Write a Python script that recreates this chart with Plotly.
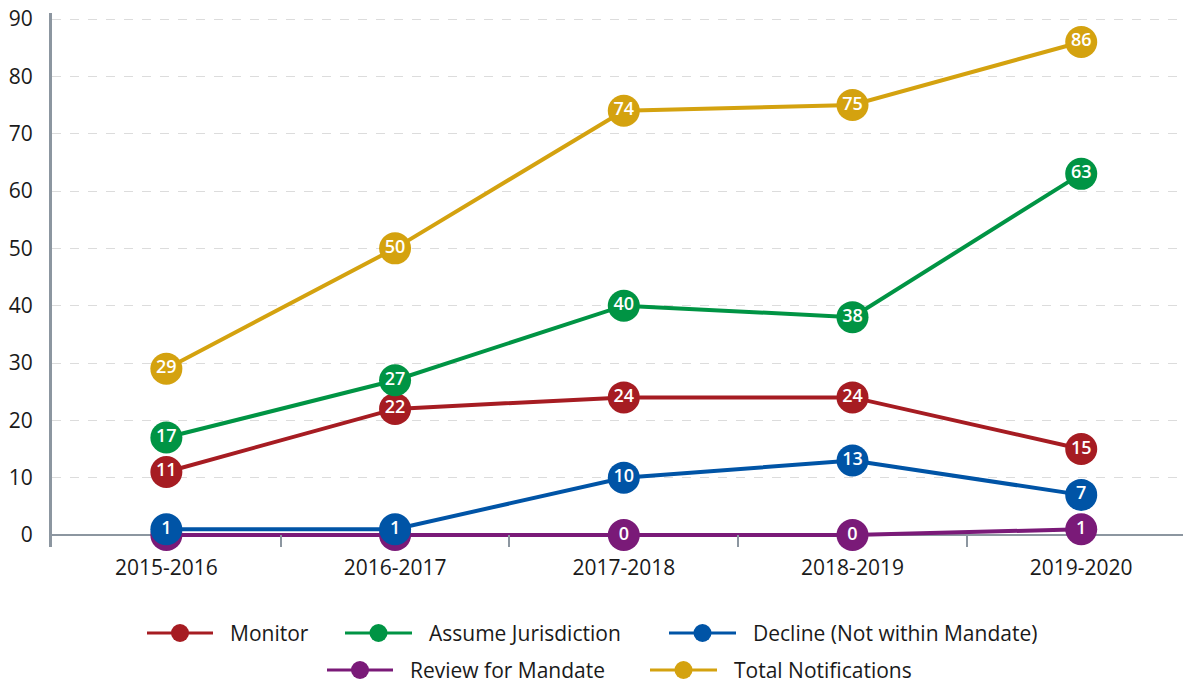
import plotly.graph_objects as go

years = ["2015-2016", "2016-2017", "2017-2018", "2018-2019", "2019-2020"]
monitor = [11, 22, 24, 24, 15]
assume = [17, 27, 40, 38, 63]
decline = [1, 1, 10, 13, 7]
review = [0, 0, 0, 0, 1]
total = [29, 50, 74, 75, 86]

names = ["Review for Mandate", "Total Notifications", "Monitor",
         "Assume Jurisdiction", "Decline (Not within Mandate)"]
values = [review, total, monitor, assume, decline]
colors = ["#7a1a78", "#d4a20f", "#a61c22", "#009444", "#0054a6"]

# legend layout (screen pixels): line start, line end, text start, row centre y
legend_pos = {
    "Monitor": (147, 213, 228, 633),
    "Assume Jurisdiction": (345, 412, 427, 633),
    "Decline (Not within Mandate)": (669, 736, 751, 633),
    "Review for Mandate": (327, 393, 408, 670),
    "Total Notifications": (650, 717, 732, 670),
}

OFF = 8  # page body margin
W, H = 1191 - OFF, 685 - OFF
ML, MR, MT, MB = 52 - OFF, 0, 13 - OFF, 138
PW, PH = W - ML - MR, H - MT - MB
FONT = "Open Sans"


def px(x):
    return (x - OFF - ML) / PW


def py(y):
    return (H - MB - (y - OFF)) / PH


fig = go.Figure()
for name, vals, color in zip(names, values, colors):
    fig.add_trace(go.Scatter(
        x=years, y=vals, name=name, mode="lines+markers+text",
        text=[str(v) for v in vals], textposition="middle center",
        textfont=dict(color="white", size=18, family=FONT, weight=600),
        line=dict(color=color, width=4),
        marker=dict(color=color, size=32),
        showlegend=False, cliponaxis=False,
    ))

shapes, annotations = [], []
for name, color in zip(names, colors):
    x0, x1, xt, yc = legend_pos[name]
    shapes.append(dict(type="line", xref="paper", yref="paper",
                       x0=px(x0), x1=px(x1), y0=py(yc), y1=py(yc),
                       line=dict(color=color, width=3)))
    xc = (x0 + x1) / 2
    shapes.append(dict(type="circle", xref="paper", yref="paper",
                       xsizemode="pixel", ysizemode="pixel",
                       xanchor=px(xc), yanchor=py(yc),
                       x0=-9, x1=9, y0=-9, y1=9,
                       fillcolor=color, line=dict(color=color, width=0)))
    annotations.append(dict(text=name, xref="paper", yref="paper",
                            x=px(xt), y=py(yc), xanchor="left", yanchor="middle",
                            showarrow=False,
                            font=dict(size=21, family=FONT, color="#1a1a1a")))

fig.update_layout(
    width=W, height=H,
    margin=dict(l=ML, r=MR, t=MT, b=MB, autoexpand=False),
    paper_bgcolor="white", plot_bgcolor="white",
    font=dict(family=FONT, color="#1a1a1a", size=21),
    showlegend=False,
    shapes=shapes, annotations=annotations,
)
fig.update_xaxes(
    type="category", range=[-0.5, 4.48], showline=False, showgrid=False,
    ticks="inside", ticklen=12, tickwidth=2, tickcolor="#8c96a0", tickson="boundaries",
    tickfont=dict(size=21, family=FONT, color="#1a1a1a"), ticklabelstandoff=6,
    automargin=False, ticklabeloverflow="allow",
)
fig.update_yaxes(
    range=[-2.09, 91.05], tickvals=list(range(0, 91, 10)),
    showline=True, linecolor="#8c96a0", linewidth=3,
    showgrid=True, gridcolor="#dcdcdc", griddash="dash", gridwidth=1,
    zeroline=True, zerolinecolor="#8c96a0", zerolinewidth=2,
    ticks="", tickfont=dict(size=21, family=FONT, color="#1a1a1a"), ticklabelstandoff=12,
    automargin=False, ticklabeloverflow="allow",
)

fig.write_html("out.html")
